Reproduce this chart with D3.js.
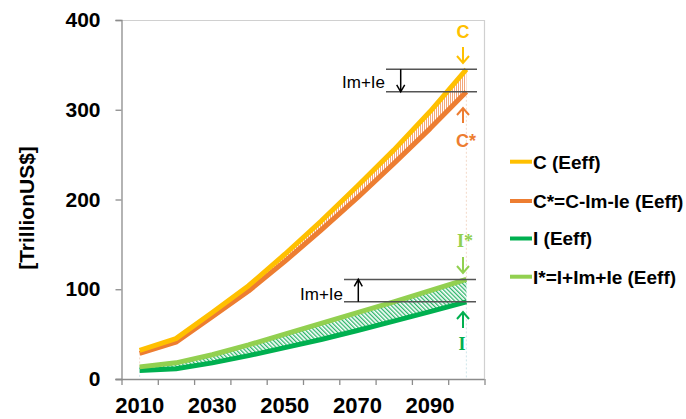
<!DOCTYPE html>
<html><head><meta charset="utf-8">
<script src="https://cdn.jsdelivr.net/npm/d3@7"></script>
<style>body{margin:0;background:#fff}svg{display:block}text{font-family:"Liberation Sans",Arial,sans-serif}</style>
</head><body><svg id="c" width="686" height="419"></svg>
<script>
const years=[2010,2020,2030,2040,2050,2060,2070,2080,2090,2100];
const C=[32,45,74,104,139,176,215,255,298,345];
const Cstar=[28.5,41,69.5,98,131,166,202,240,279,320];
const I=[9.5,11.5,18,26,35,44,54,64.5,75,86];
const Istar=[13.5,18,27,38,50,62,74,86,98.5,111];
const yTicks=[0,100,200,300,400];
const xLabels=[2010,2030,2050,2070,2090];
const seriesNames=["C (Eeff)","C*=C-Im-Ie (Eeff)","I (Eeff)","I*=I+Im+Ie (Eeff)"];
const colors=["#FFC000","#ED7D31","#00B050","#92D050"];

const svg=d3.select("#c");
const L=121.5,R=484.5,T=20,B=379;
const x=d3.scaleBand().domain(years).range([L,R]);
const xc=d=>x(d)+x.bandwidth()/2;
const xi=d3.scaleLinear().domain([0,years.length]).range([L,R]);
const y=d3.scaleLinear().domain([0,400]).range([B,T]);

const defs=svg.append("defs");
const po=defs.append("pattern").attr("id","hO").attr("patternUnits","userSpaceOnUse").attr("width",2).attr("height",4);
po.append("rect").attr("width",1).attr("height",4).attr("fill","#F2A67A");
const pg=defs.append("pattern").attr("id","hG").attr("patternUnits","userSpaceOnUse").attr("width",3).attr("height",3).attr("patternTransform","rotate(-45)");
pg.append("rect").attr("width",1.3).attr("height",3).attr("fill","#2DB56A");

// frame
svg.append("line").attr("x1",L-6).attr("x2",R).attr("y1",T+0.5).attr("y2",T+0.5).attr("stroke","#d0d0d0").attr("stroke-width",1.2);
svg.append("line").attr("x1",R).attr("x2",R).attr("y1",T).attr("y2",B).attr("stroke","#d0d0d0").attr("stroke-width",1.2);

// y axis
const ya=svg.append("g").attr("transform",`translate(${L},0)`).call(d3.axisLeft(y).tickValues(yTicks).tickSize(6).tickPadding(15));
ya.select(".domain").attr("stroke","#8c8c8c").attr("stroke-width",1.3);
ya.selectAll(".tick line").attr("stroke","#8c8c8c").attr("stroke-width",1.3);
ya.selectAll(".tick text").attr("font-size",21).attr("font-weight","bold").attr("fill","#000");

// x axis
const xa=svg.append("g").attr("transform",`translate(0,${B})`).call(d3.axisBottom(xi).tickValues(d3.range(years.length+1)).tickSize(6).tickFormat(""));
xa.select(".domain").attr("stroke","#8c8c8c").attr("stroke-width",1.3).attr("d",`M${L-6},0.5H${R}`);
xa.selectAll(".tick line").attr("stroke","#8c8c8c").attr("stroke-width",1.3);
svg.append("g").selectAll("text").data(xLabels).join("text")
  .attr("x",d=>xc(d)).attr("y",413).attr("text-anchor","middle")
  .attr("font-size",22).attr("font-weight","bold").text(d=>d);

// y title
svg.append("text").attr("transform","translate(34,208) rotate(-90)").attr("text-anchor","middle")
  .attr("font-size",21).attr("font-weight","bold").text("[TrillionUS$]");

// faint drop lines
[2010,2100].forEach(yr=>{
  const i=years.indexOf(yr);
  svg.append("line").attr("x1",xc(yr)).attr("x2",xc(yr)).attr("y1",y(Cstar[i])).attr("y2",y(Istar[i])).attr("stroke","#f3d9c8").attr("stroke-dasharray","2,2");
  svg.append("line").attr("x1",xc(yr)).attr("x2",xc(yr)).attr("y1",y(Istar[i])).attr("y2",B).attr("stroke","#cfe6ea").attr("stroke-dasharray","2,2");
});

// hatched areas
const areaGen=(top,bot)=>d3.area().x((d,i)=>xc(years[i])).y0((d,i)=>y(bot[i])).y1((d,i)=>y(top[i]))(years);
svg.append("path").attr("d",areaGen(C,Cstar)).attr("fill","url(#hO)");
svg.append("path").attr("d",areaGen(Istar,I)).attr("fill","url(#hG)");

// lines
const lineGen=arr=>d3.line().x((d,i)=>xc(years[i])).y((d,i)=>y(arr[i]))(years);
[[I,2],[Istar,3],[Cstar,1],[C,0]].forEach(([arr,k])=>{
  svg.append("path").attr("d",lineGen(arr)).attr("fill","none").attr("stroke",colors[k]).attr("stroke-width",5).attr("stroke-linejoin","round");
});

// annotations
const last=years.length-1;
function hline(yv,x1,x2){svg.append("line").attr("x1",x1).attr("x2",x2).attr("y1",y(yv)).attr("y2",y(yv)).attr("stroke","#555").attr("stroke-width",1.5);}
function arrow(xp,y1,y2,col,w,hw,hh){
  const dir=y2>y1?1:-1;
  svg.append("path").attr("d",`M${xp},${y1}V${y2}M${xp-hw},${y2-dir*hh}L${xp},${y2}L${xp+hw},${y2-dir*hh}`)
    .attr("fill","none").attr("stroke",col).attr("stroke-width",w).attr("stroke-linejoin","miter");
}
hline(C[last],386,477); hline(Cstar[last],386,477);
arrow(400.7,y(C[last]),y(Cstar[last]),"#000",1.5,4,7);
svg.append("text").attr("x",385).attr("y",88).attr("text-anchor","end").attr("font-size",17).text("Im+Ie");
hline(Istar[last],344,476); hline(I[last],344,476);
arrow(358.3,y(I[last]),y(Istar[last]),"#000",1.5,4,7);
svg.append("text").attr("x",343).attr("y",299.5).attr("text-anchor","end").attr("font-size",17).text("Im+Ie");

svg.append("text").attr("x",463).attr("y",37.7).attr("text-anchor","middle").attr("font-size",18).attr("font-weight","bold").attr("fill",colors[0]).text("C");
arrow(463,47,63,colors[0],2,6,7);
arrow(463,123,108,colors[1],2,6,7);
svg.append("text").attr("x",466).attr("y",147).attr("text-anchor","middle").attr("font-size",18).attr("font-weight","bold").attr("fill",colors[1]).text("C*");
svg.append("text").attr("x",465).attr("y",247).attr("text-anchor","middle").attr("font-size",18).attr("font-weight","bold").style("font-family","'Liberation Serif','DejaVu Serif',serif").attr("fill",colors[3]).text("I*");
arrow(463,257,273,colors[3],2,6,7);
arrow(463,328,312,colors[2],2,6,7);
svg.append("text").attr("x",462).attr("y",350).attr("text-anchor","middle").attr("font-size",18).attr("font-weight","bold").style("font-family","'Liberation Serif','DejaVu Serif',serif").attr("fill",colors[2]).text("I");

// legend
const legY=[161.7,201,238.5,276.7];
const lg=svg.append("g").selectAll("g").data(seriesNames).join("g").attr("transform",(d,i)=>`translate(510,${legY[i]})`);
lg.append("line").attr("x1",0).attr("x2",22).attr("stroke",(d,i)=>colors[i]).attr("stroke-width",4);
lg.append("text").attr("x",23).attr("dy","0.36em").attr("font-size",19).attr("font-weight","bold").text(d=>d);
</script></body></html>
